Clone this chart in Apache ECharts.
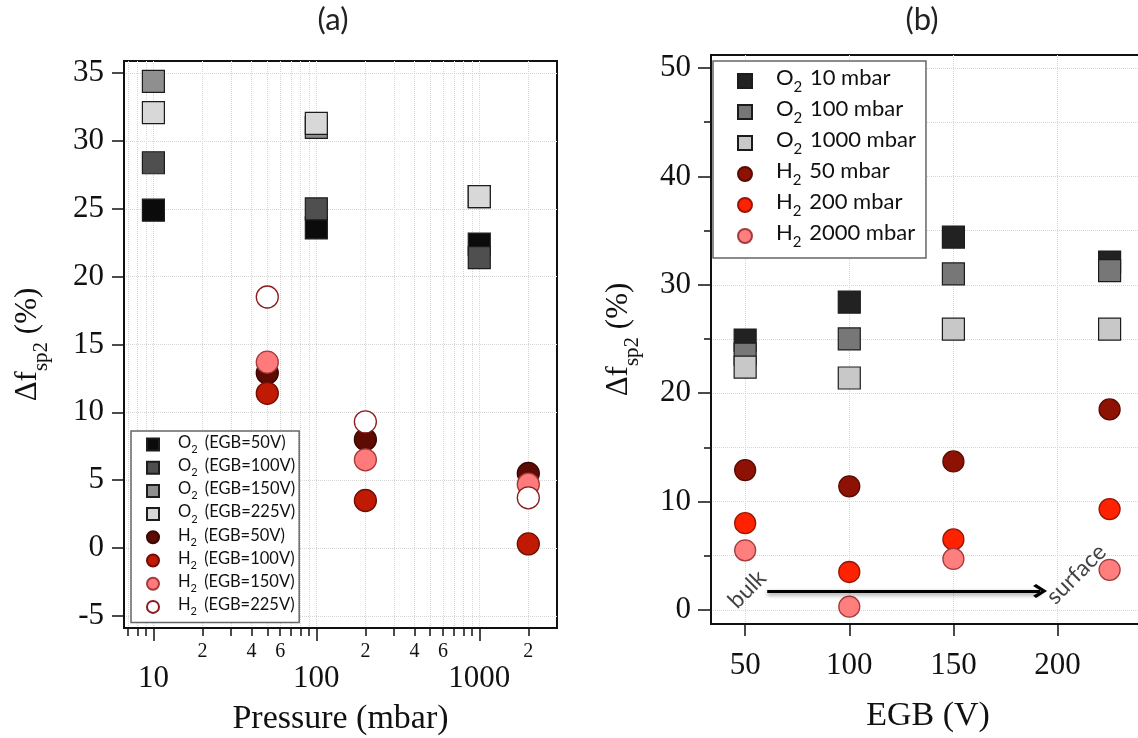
<!DOCTYPE html>
<html>
<head>
<meta charset="utf-8">
<script src="https://cdn.jsdelivr.net/npm/echarts@6/dist/echarts.min.js"></script>
<style>
  html, body { margin: 0; padding: 0; background: #fff; }
  #chart { width: 1138px; height: 738px; }
</style>
</head>
<body>
<div id="chart"></div>
<script>
const serif = '"Liberation Serif", "Times New Roman", serif';
const sans = 'Lato, "Open Sans", sans-serif';

const egbLevels = [50, 100, 150, 225];
const o2Pressures = [10, 100, 1000];
const h2Pressures = [50, 200, 2000];

// delta f_sp2 (%) per EGB, in the order of the pressures above
const o2Egb50 = [24.9, 23.6, 22.4];
const o2Egb100 = [28.4, 25.0, 21.4];
const o2Egb150 = [34.4, 31.0, 25.9];
const o2Egb225 = [32.1, 31.3, 25.9];
const h2Egb50 = [12.9, 8.0, 5.5];
const h2Egb100 = [11.4, 3.5, 0.3];
const h2Egb150 = [13.7, 6.5, 4.7];
const h2Egb225 = [18.5, 9.3, 3.7];
const o2Rows = [o2Egb50, o2Egb100, o2Egb150, o2Egb225];
const h2Rows = [h2Egb50, h2Egb100, h2Egb150, h2Egb225];

// ticks
const yTicksA = [-5, 0, 5, 10, 15, 20, 25, 30, 35];
const xMajorA = [10, 100, 1000];
const xMinorA = [7, 8, 9, 20, 30, 40, 50, 60, 70, 80, 90, 200, 300, 400, 500, 600, 700, 800, 900, 2000];
const xMinorLabelA = [20, 40, 60, 200, 400, 600, 2000];
const xTicksB = [50, 100, 150, 200];
const yTicksB = [0, 10, 20, 30, 40, 50];
const yMinorB = [5, 15, 25, 35, 45];

// annotation in panel (b), data coordinates
const arrowFrom = [60.6, 1.75];
const arrowTo = [191.6, 1.75];
const bulkAt = [51, 1.9];
const surfaceAt = [209, 3.3];

const o2ColorsA = ['#0b0b0b', '#4f4f4f', '#8f8f8f', '#d8d8d8'];
const h2ColorsA = ['#5e0b04', '#c01a04', '#ff7a7a', '#ffffff'];
const h2BorderA = ['#3a0602', '#6e0e04', '#a53a3a', '#8b1c1c'];
const o2ColorsB = ['#222222', '#777777', '#c8c8c8'];
const h2ColorsB = ['#8e1204', '#ff2200', '#ff7e7e'];
const h2BorderB = ['#5a0a03', '#9a1505', '#a53a3a'];

const gridLine = { show: true, lineStyle: { color: '#d6d6d6', type: 'dotted', width: 1 } };
const log10 = v => Math.log10(v);

function subName(name) {
  const m = name.match(/^([OH])2(.*)$/);
  return '{f|' + m[1] + '}{s|2}{t|' + m[2] + '}';
}

// pressure tick label: decades big and lower, 2/4/6 small
function pressureLabel(v) {
  const p = Math.round(Math.pow(10, v));
  if (xMajorA.indexOf(p) >= 0) return '{big|' + p + '}';
  return '{small|' + String(p).charAt(0) + '}';
}

const seriesA = [], seriesB = [];
const namesA = [], namesB = [];

o2Rows.forEach((row, i) => {
  const name = 'O2 (EGB=' + egbLevels[i] + 'V)';
  namesA.push(name);
  seriesA.push({
    name: name, type: 'scatter', xAxisIndex: 0, yAxisIndex: 0,
    symbol: 'rect', symbolSize: 22,
    itemStyle: { color: o2ColorsA[i], borderColor: '#1c1c1c', borderWidth: 1.2, opacity: 1 },
    data: o2Pressures.map((p, j) => [log10(p), row[j]])
  });
});
h2Rows.forEach((row, i) => {
  const name = 'H2 (EGB=' + egbLevels[i] + 'V)';
  namesA.push(name);
  seriesA.push({
    name: name, type: 'scatter', xAxisIndex: 0, yAxisIndex: 0,
    symbol: 'circle', symbolSize: 22,
    itemStyle: { color: h2ColorsA[i], borderColor: h2BorderA[i], borderWidth: 1.3, opacity: 1 },
    data: h2Pressures.map((p, j) => [log10(p), row[j]])
  });
});

o2Pressures.forEach((p, j) => {
  const name = 'O2 ' + p + ' mbar';
  namesB.push(name);
  seriesB.push({
    name: name, type: 'scatter', xAxisIndex: 2, yAxisIndex: 1,
    symbol: 'rect', symbolSize: 22,
    itemStyle: { color: o2ColorsB[j], borderColor: '#1c1c1c', borderWidth: 1.2, opacity: 1 },
    data: egbLevels.map((e, i) => [e, o2Rows[i][j]])
  });
});
h2Pressures.forEach((p, j) => {
  const name = 'H2 ' + p + ' mbar';
  namesB.push(name);
  seriesB.push({
    name: name, type: 'scatter', xAxisIndex: 2, yAxisIndex: 1,
    symbol: 'circle', symbolSize: 21,
    itemStyle: { color: h2ColorsB[j], borderColor: h2BorderB[j], borderWidth: 1.3, opacity: 1 },
    data: egbLevels.map((e, i) => [e, h2Rows[i][j]])
  });
});

// bulk -> surface arrow and labels
const noteLabel = { show: true, position: 'inside', rotate: 45, fontFamily: sans, fontSize: 23, color: '#111' };
seriesB.push({
  type: 'scatter', xAxisIndex: 2, yAxisIndex: 1, silent: true,
  symbolSize: 1, itemStyle: { color: 'rgba(0,0,0,0)' },
  label: Object.assign({ formatter: 'bulk' }, noteLabel),
  data: [bulkAt],
  markLine: {
    silent: true, animation: false,
    symbol: ['none', 'path://M10,0L20,11L17,14L10,6L3,14L0,11Z'],
    symbolSize: [14, 14],
    label: { show: false },
    lineStyle: { color: '#000', width: 3, type: 'solid', shadowBlur: 4, shadowColor: 'rgba(0,0,0,0.45)', shadowOffsetY: 2 },
    data: [[{ coord: arrowFrom }, { coord: arrowTo }]]
  }
});
seriesB.push({
  type: 'scatter', xAxisIndex: 2, yAxisIndex: 1, silent: true,
  symbolSize: 1, itemStyle: { color: 'rgba(0,0,0,0)' },
  label: Object.assign({ formatter: 'surface' }, noteLabel),
  data: [surfaceAt]
});

const yName = '{m|Δf}{s|sp2}{m| (%)}';
const yNameStyle = {
  rich: {
    m: { fontFamily: serif, fontSize: 31, color: '#111', padding: [0, 0, 9, 0], verticalAlign: 'bottom' },
    s: { fontFamily: serif, fontSize: 21, color: '#111', verticalAlign: 'bottom' }
  }
};
const axisLine = { show: true, onZero: false, lineStyle: { color: '#111', width: 2 } };
const tickStyle = { color: '#111', width: 1.5 };
const titleStyle = { fontFamily: sans, fontSize: 31, fontWeight: 'normal', color: '#222' };

const chart = echarts.init(document.getElementById('chart'));
chart.setOption({
  animation: false,
  backgroundColor: '#fff',
  title: [
    { text: '(a)', left: 333, top: 4, textAlign: 'center', padding: 0, textStyle: titleStyle },
    { text: '(b)', left: 922, top: 4, textAlign: 'center', padding: 0, textStyle: titleStyle }
  ],
  grid: [
    { left: 124, top: 61, width: 433, height: 567, show: true, borderColor: '#111', borderWidth: 2,
      containLabel: false, outerBoundsMode: 'none' },
    { left: 711, top: 55, width: 434, height: 569, show: true, borderColor: '#111', borderWidth: 2,
      containLabel: false, outerBoundsMode: 'none' }
  ],
  legend: [
    {
      data: namesA, orient: 'vertical', left: 131, top: 431, selectedMode: false,
      itemWidth: 12, itemHeight: 12, itemGap: 2.2,
      padding: [3, 4, 5, 15], backgroundColor: '#fff', borderColor: '#666', borderWidth: 1.5,
      formatter: subName,
      textStyle: {
        color: '#111',
        rich: {
          f: { fontFamily: sans, fontSize: 16.5, color: '#111', padding: [0, 0, 4, 14], verticalAlign: 'bottom' },
          s: { fontFamily: sans, fontSize: 11, color: '#111', verticalAlign: 'bottom' },
          t: { fontFamily: sans, fontSize: 16.5, color: '#111', padding: [0, 0, 4, 3], verticalAlign: 'bottom' }
        }
      }
    },
    {
      data: namesB, orient: 'vertical', left: 713, top: 61, selectedMode: false,
      itemWidth: 14, itemHeight: 14, itemGap: 3,
      padding: [6, 10, 8, 24], backgroundColor: '#fff', borderColor: '#666', borderWidth: 1.5,
      formatter: subName,
      textStyle: {
        color: '#111',
        rich: {
          f: { fontFamily: sans, fontSize: 22, color: '#111', padding: [0, 0, 6, 19], verticalAlign: 'bottom' },
          s: { fontFamily: sans, fontSize: 15, color: '#111', verticalAlign: 'bottom' },
          t: { fontFamily: sans, fontSize: 22, color: '#111', padding: [0, 0, 6, 2], verticalAlign: 'bottom' }
        }
      }
    }
  ],
  xAxis: [
    {
      // decade ticks, axis line and name
      type: 'value', gridIndex: 0, position: 'bottom', min: log10(6.6), max: log10(3000),
      axisLine: axisLine,
      axisTick: { show: true, inside: false, length: 13, lineStyle: tickStyle, customValues: xMajorA.map(log10) },
      axisLabel: { show: false },
      splitLine: gridLine,
      name: 'Pressure (mbar)', nameLocation: 'middle', nameGap: 74, nameMoveOverlap: false,
      nameTextStyle: { fontFamily: serif, fontSize: 34, color: '#111' }
    },
    {
      // minor ticks and all pressure labels
      type: 'value', gridIndex: 0, position: 'bottom', min: log10(6.6), max: log10(3000),
      axisLine: { show: false, onZero: false },
      axisTick: { show: true, inside: false, length: 8, lineStyle: tickStyle, customValues: xMinorA.map(log10) },
      axisLabel: {
        customValues: xMajorA.concat(xMinorLabelA).map(log10), margin: 14, color: '#111',
        formatter: pressureLabel,
        rich: {
          big: { fontFamily: serif, fontSize: 31, color: '#111', padding: [21, 0, 0, 0] },
          small: { fontFamily: serif, fontSize: 20, color: '#111' }
        }
      },
      splitLine: gridLine
    },
    {
      type: 'value', gridIndex: 1, position: 'bottom', min: 33.6, max: 242,
      axisLine: axisLine,
      axisTick: { show: true, inside: false, length: 12, lineStyle: tickStyle, customValues: xTicksB },
      axisLabel: { customValues: xTicksB, margin: 26, fontFamily: serif, fontSize: 31, color: '#111' },
      splitLine: gridLine,
      name: 'EGB (V)', nameLocation: 'middle', nameGap: 75, nameMoveOverlap: false,
      nameTextStyle: { fontFamily: serif, fontSize: 34, color: '#111' }
    }
  ],
  yAxis: [
    {
      type: 'value', gridIndex: 0, min: -5.9, max: 35.9,
      axisLine: axisLine,
      axisTick: { show: true, inside: false, length: 12, lineStyle: tickStyle, customValues: yTicksA },
      axisLabel: { customValues: yTicksA, margin: 20, fontFamily: serif, fontSize: 31, color: '#111' },
      splitLine: gridLine,
      name: yName, nameLocation: 'middle', nameGap: 72, nameMoveOverlap: false, nameTextStyle: yNameStyle
    },
    {
      type: 'value', gridIndex: 1, min: -1.3, max: 51.2,
      axisLine: axisLine,
      axisTick: { show: true, inside: false, length: 13, lineStyle: tickStyle, customValues: yTicksB },
      axisLabel: { customValues: yTicksB, margin: 20, fontFamily: serif, fontSize: 31, color: '#111' },
      splitLine: gridLine,
      name: yName, nameLocation: 'middle', nameGap: 68, nameMoveOverlap: false, nameTextStyle: yNameStyle
    },
    {
      type: 'value', gridIndex: 1, min: -1.3, max: 51.2, position: 'left',
      axisLine: { show: false, onZero: false },
      axisTick: { show: true, inside: false, length: 7, lineStyle: tickStyle, customValues: yMinorB },
      axisLabel: { show: false },
      splitLine: gridLine
    }
  ],
  series: seriesA.concat(seriesB)
});
</script>
</body>
</html>
